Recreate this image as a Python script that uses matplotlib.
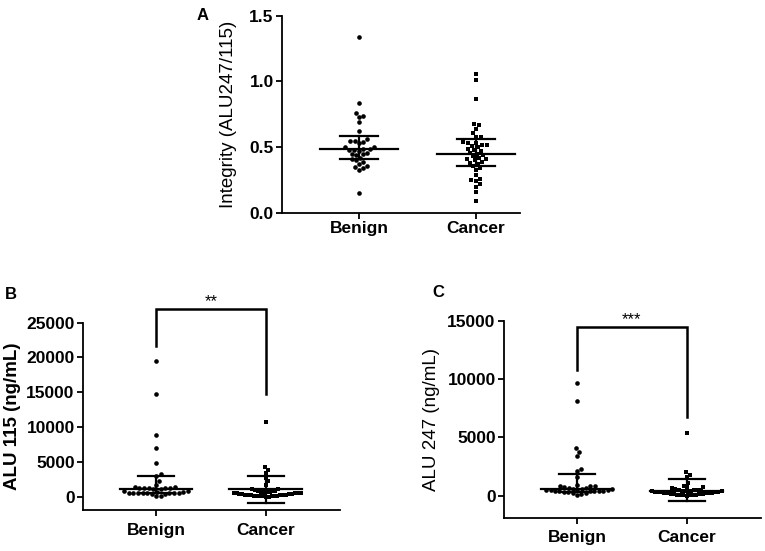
import numpy as np
import matplotlib.pyplot as plt

plt.rcParams['font.family'] = ['Liberation Sans', 'DejaVu Sans']

groups = ['Benign', 'Cancer']

# A: integrity ratio ALU247/115
integrity_benign = [1.34, 0.84, 0.76, 0.74, 0.73, 0.69, 0.62, 0.56, 0.55, 0.55, 0.54,
                    0.53, 0.50, 0.50, 0.49, 0.49, 0.48, 0.48, 0.47, 0.46, 0.45, 0.45,
                    0.44, 0.42, 0.41, 0.40, 0.39, 0.37, 0.36, 0.35, 0.34, 0.33, 0.15]
integrity_cancer = [1.06, 1.01, 0.87, 0.68, 0.67, 0.64, 0.61, 0.58, 0.58, 0.54, 0.53,
                    0.53, 0.52, 0.52, 0.51, 0.50, 0.49, 0.48, 0.47, 0.46, 0.45, 0.44,
                    0.43, 0.42, 0.41, 0.41, 0.40, 0.39, 0.38, 0.37, 0.36, 0.34, 0.33,
                    0.29, 0.26, 0.25, 0.24, 0.22, 0.20, 0.16, 0.09]

# B: ALU 115 (ng/mL)
alu115_benign = [19550, 14770, 8800, 7030, 4830, 3200, 3050, 2200, 1700, 1400, 1350,
                 1300, 1300, 1250, 1200, 1200, 1150, 1100, 900, 800, 700, 650, 600,
                 600, 550, 550, 550, 500, 500, 500, 450, 400, 100, 50]
alu115_cancer = [10700, 4260, 3870, 3400, 2680, 2200, 1720, 1150, 1100, 1000, 900, 850,
                 800, 750, 700, 700, 650, 600, 600, 550, 500, 500, 450, 400, 400, 350,
                 300, 300, 250, 250, 200, 200, 150, 150, 100, 100, 80, 60, 50, 30, 20]

# C: ALU 247 (ng/mL)
alu247_benign = [9640, 8130, 4130, 3790, 3420, 2310, 2140, 1650, 900, 850, 800, 800,
                 750, 700, 650, 600, 550, 550, 500, 500, 500, 500, 450, 450, 450, 400,
                 400, 400, 350, 300, 250, 200, 150, 100]
alu247_cancer = [5360, 2030, 1740, 1650, 1090, 800, 750, 720, 700, 550, 500, 500, 480,
                 460, 450, 440, 420, 400, 400, 380, 360, 340, 320, 300, 300, 280, 260,
                 240, 220, 200, 180, 160, 140, 120, 100, 90, 80, 60, 50, 40, 20]

# summary lines: (centre, lower, upper)
integrity_summary = [(0.49, 0.41, 0.585), (0.445, 0.355, 0.565)]
alu115_summary = [(1050, 500, 2950), (1050, -850, 3000)]
alu247_summary = [(600, 350, 1850), (450, -450, 1450)]

a_ticks = [0.0, 0.5, 1.0, 1.5]
a_ticklabels = ['0.0', '0.5', '1.0', '1.5']
b_ticks = [0, 5000, 10000, 15000, 20000, 25000]
c_ticks = [0, 5000, 10000, 15000]


def swarm_x(ax, center, values, d=4.7, max_half=35):
    pts = ax.transData.transform(np.column_stack([np.full(len(values), center), values]))
    ys = pts[:, 1]
    xs = np.zeros(len(values))
    placed = []
    for i in np.argsort(ys):
        y = ys[i]
        near = [(px, py) for px, py in placed if abs(py - y) < d]
        cands = [0.0]
        for px, py in near:
            dx = np.sqrt(d ** 2 - (py - y) ** 2)
            cands += [px + dx, px - dx]
        cands.sort(key=abs)
        for c in cands:
            if all((c - px) ** 2 + (y - py) ** 2 >= d ** 2 - 1e-6 for px, py in near):
                xs[i] = c
                break
        placed.append((xs[i], y))
    # squeeze very crowded swarms so they stay about as wide as the mean line
    widest = np.abs(xs).max()
    if widest > max_half:
        xs = xs * max_half / widest
    inv = ax.transData.inverted()
    return inv.transform(np.column_stack([pts[:, 0] + xs, ys]))[:, 0]


def draw_panel(ax, benign, cancer, summ, xlim, ylim, ticks, ticklabels, ylabel,
               ylabel_weight, labelpad, xpad):
    ax.set_xlim(*xlim)
    ax.set_ylim(*ylim)
    for x, vals, marker in [(1, benign, 'o'), (2, cancer, 's')]:
        xs = swarm_x(ax, x, vals)
        ax.scatter(xs, vals, s=11 if marker == 'o' else 9, marker=marker,
                   color='black', linewidths=0, zorder=3)
    for x, (mid, lo, hi) in zip([1, 2], summ):
        ax.plot([x - 0.33, x + 0.33], [mid, mid], color='black', lw=1.6, zorder=4)
        ax.plot([x, x], [lo, hi], color='black', lw=1.6, zorder=4)
        ax.plot([x - 0.165, x + 0.165], [hi, hi], color='black', lw=1.6, zorder=4)
        ax.plot([x - 0.165, x + 0.165], [lo, lo], color='black', lw=1.6, zorder=4)
    ax.set_xticks([1, 2])
    ax.set_xticklabels(groups, fontsize=12.5, fontweight='bold')
    ax.set_yticks(ticks)
    ax.set_yticklabels(ticklabels, fontsize=12.5, fontweight='bold')
    ax.set_ylabel(ylabel, fontsize=13.5, fontweight=ylabel_weight, labelpad=labelpad)
    for s in ['top', 'right']:
        ax.spines[s].set_visible(False)
    for s in ['left', 'bottom']:
        ax.spines[s].set_linewidth(1.3)
    ax.tick_params(direction='out', length=4, width=1.3, pad=2)
    ax.tick_params(axis='x', pad=xpad)


def bracket(ax, top, left_end, right_end, stars):
    ax.plot([1, 1, 2, 2], [left_end, top, top, right_end], color='black', lw=1.8,
            clip_on=False, solid_joinstyle='miter')
    ax.text(1.5, top, stars, ha='center', va='bottom', fontsize=12)


fig = plt.figure(figsize=(7.65, 5.51), dpi=100)

ax_a = fig.add_axes([0.3686, 0.6134, 0.3111, 0.3581])
draw_panel(ax_a, integrity_benign, integrity_cancer, integrity_summary,
           (0.342, 2.376), (0, 1.5), a_ticks, a_ticklabels,
           'Integrity (ALU247/115)', 'normal', 9, 2)

ax_b = fig.add_axes([0.1085, 0.0744, 0.3359, 0.3400])
draw_panel(ax_b, alu115_benign, alu115_cancer, alu115_summary,
           (0.335, 2.677), (-1900, 25000), b_ticks, [str(t) for t in b_ticks],
           'ALU 115 (ng/mL)', 'bold', 4, 5)
bracket(ax_b, 27000, 21700, 14800, '**')

ax_c = fig.add_axes([0.6588, 0.0599, 0.3359, 0.3581])
draw_panel(ax_c, alu247_benign, alu247_cancer, alu247_summary,
           (0.335, 2.677), (-1900, 15000), c_ticks, [str(t) for t in c_ticks],
           'ALU 247 (ng/mL)', 'normal', 5, 5)
bracket(ax_c, 14460, 10780, 6790, '***')

fig.text(0.2575, 0.9855, 'A', fontsize=12, fontweight='bold', ha='left', va='top')
fig.text(0.0065, 0.479, 'B', fontsize=12, fontweight='bold', ha='left', va='top')
fig.text(0.5647, 0.4828, 'C', fontsize=12, fontweight='bold', ha='left', va='top')

fig.savefig('out.png', dpi=100)
